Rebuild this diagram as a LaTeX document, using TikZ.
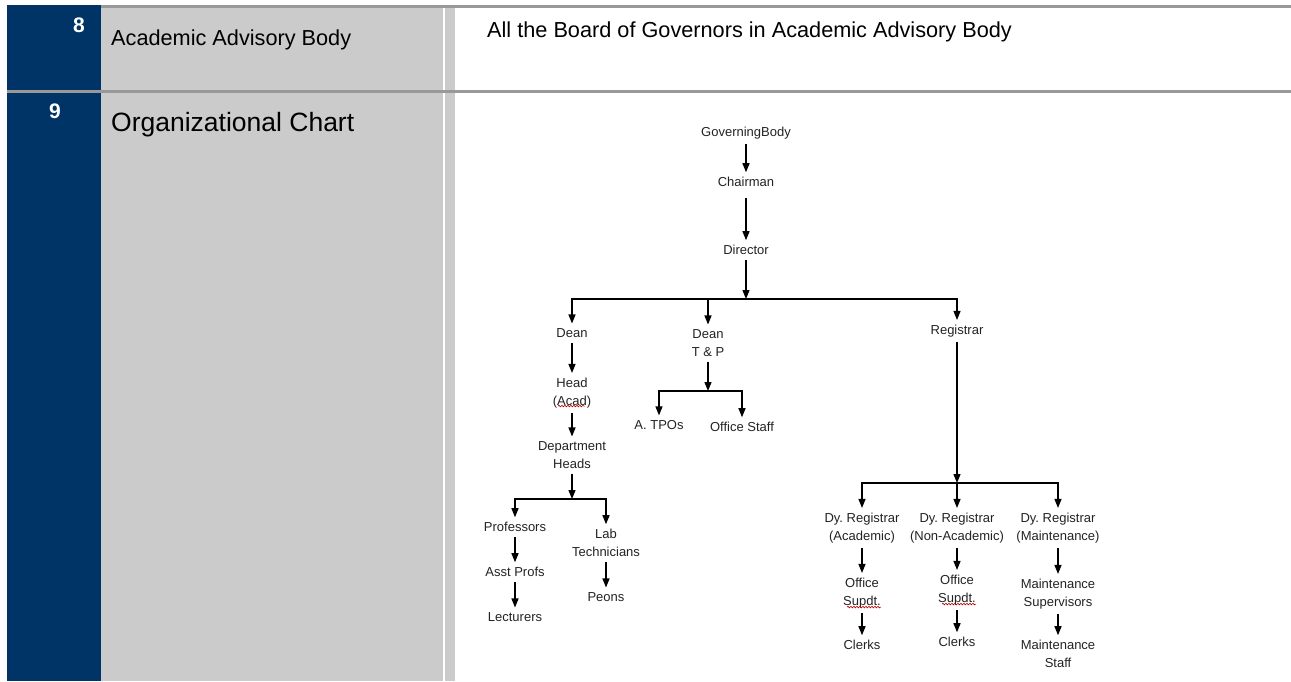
\documentclass[tikz,border=0pt]{standalone}
\usepackage{fontspec}
\setmainfont{Liberation Sans}
\usepackage{xcolor}
\usetikzlibrary{arrows.meta, calc, positioning, decorations.pathmorphing}
\definecolor{navy}{RGB}{0,51,102}
\definecolor{cellgray}{RGB}{203,203,203}
\definecolor{rulegray}{RGB}{153,153,153}
\definecolor{inkgray}{RGB}{35,35,35}
\frenchspacing

\begin{document}
\begin{tikzpicture}[x=1pt, y=-1pt,
  box/.style={font=\fontsize{13}{18}\selectfont, text=inkgray, align=center, inner sep=2pt, outer sep=3pt},
  arr/.style={-{Triangle[length=9pt,width=7pt]}, line width=1.3pt},
  squig/.style={red!75!black, line width=0.6pt, decorate, decoration={snake, amplitude=0.8pt, segment length=3pt}},
  rowtext/.style={font=\fontsize{21.7}{26}\selectfont, anchor=base west, inner sep=0pt},
  rownum/.style={font=\fontsize{21}{24}\selectfont\bfseries, text=white, anchor=base, inner sep=0pt}
]
\useasboundingbox (0,0) rectangle (1291,681);
\fill[white] (0,0) rectangle (1291,681);
% table cells
\fill[navy] (7,5) rectangle (101,681);
\fill[cellgray] (101,7) rectangle (443,681);
\fill[cellgray] (445,7) rectangle (455,681);
\fill[rulegray] (101,5) rectangle (1291,7.5);
\fill[rulegray] (7,90) rectangle (1291,93);

\node[rownum] (num8) at (79,32) {8};
\node[rownum] (num9) at (55,118) {9};
\node[rowtext] (advisory) at (111,45) {Academic Advisory Body};
\node[rowtext] (board) at (487,37) {All the Board of Governors in Academic Advisory Body};
\node[rowtext, font=\fontsize{26.5}{30}\selectfont] (orgchart) at (111,131) {Organizational Chart};

% chart
\node[box] (gov) at (746,133) {GoverningBody};
\node[box] (chair) at (746,182) {Chairman};
\node[box] (director) at (746,250) {Director};
\node[box] (dean) at (572,333) {Dean};
\node[box] (deantp) at (708,343) {Dean\\T \& P};
\node[box] (registrar) at (957,331) {Registrar};
\node[box] (head) at (572,393) {Head\\(Acad)};
\node[box] (depthead) at (572,455) {Department\\Heads};
\node[box] (tpo) at (659,425) {A. TPOs};
\node[box] (ostaff) at (742,427) {Office Staff};
\node[box] (prof) at (515,527) {Professors};
\node[box] (asst) at (515,572) {Asst Profs};
\node[box] (lect) at (515,617) {Lecturers};
\node[box] (lab) at (606,543) {Lab\\Technicians};
\node[box] (peons) at (606,597) {Peons};
\node[box] (dya) at (862,528) {Dy. Registrar\\(Academic)};
\node[box] (dyn) at (957,528) {Dy. Registrar\\(Non-Academic)};
\node[box] (dym) at (1058,528) {Dy. Registrar\\(Maintenance)};
\node[box] (osa) at (862,593) {Office\\Supdt.};
\node[box] (osn) at (957,590) {Office\\Supdt.};
\node[box] (msup) at (1058,594) {Maintenance\\Supervisors};
\node[box] (clerka) at (862,645) {Clerks};
\node[box] (clerkn) at (957,642) {Clerks};
\node[box] (mstaff) at (1058,654) {Maintenance\\Staff};

\coordinate (dirbar) at (746,299);
\coordinate (tpbar) at (708,391);
\coordinate (dhbar) at (572,499);
\coordinate (regbar) at (957,483);

\draw[arr] (gov) -- (chair);
\draw[arr, shorten <=6pt] (chair) -- (director);
\draw[arr] (director) -- (dirbar);
\draw[arr] (dirbar) -| (dean);
\draw[arr] (dirbar) -| (registrar);
\draw[arr] (dirbar -| deantp) -- (deantp);
\draw[arr] (dean) -- (head);
\draw[arr] (head) -- (depthead);
\draw[arr] (deantp) -- (tpbar);
\draw[arr] (tpbar) -| (tpo);
\draw[arr] (tpbar) -| (ostaff);
\draw[arr] (depthead) -- (dhbar);
\draw[arr] (dhbar) -| (prof);
\draw[arr] (dhbar) -| (lab);
\draw[arr] (prof) -- (asst);
\draw[arr] (asst) -- (lect);
\draw[arr] (lab) -- (peons);
\draw[arr] (registrar) -- (regbar);
\draw[arr] (regbar) -| (dya);
\draw[arr] (regbar) -- (dyn);
\draw[arr] (regbar) -| (dym);
\draw[arr] (dya) -- (osa);
\draw[arr] (dyn) -- (osn);
\draw[arr] (dym) -- (msup);
\draw[arr] (osa) -- (clerka);
\draw[arr] (osn) -- (clerkn);
\draw[arr] (msup) -- (mstaff);

% spell-check marks
\draw[squig] ([xshift=-14pt,yshift=7pt]head.south) -- ++(27,0);
\draw[squig] ([xshift=-15pt,yshift=6pt]osa.south) -- ++(34,0);
\draw[squig] ([xshift=-15pt,yshift=6pt]osn.south) -- ++(34,0);
\end{tikzpicture}
\end{document}
